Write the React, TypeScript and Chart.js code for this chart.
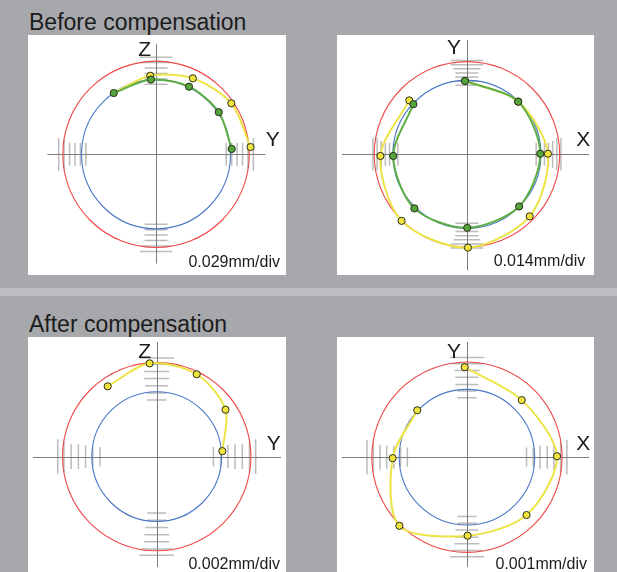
import React, { useEffect, useRef } from "react";
import { Chart, registerables } from "chart.js";

Chart.register(...registerables);

// ---------- data ----------
const SECTION_TITLES = ["Before compensation", "After compensation"];
const AXIS_NAMES: [string, string][] = [
  ["Z", "Y"],
  ["Y", "X"],
  ["Z", "Y"],
  ["Y", "X"],
];
const SCALE_LABELS = ["0.029mm/div", "0.014mm/div", "0.002mm/div", "0.001mm/div"];

// measured profile points (plot units, centre = 0,0)
const P1_GREEN: [number, number][] = [[-44, 64], [-5.3, 78], [34.3, 70.6], [65.3, 44], [78.7, 5.6]];
const P1_YELLOW: [number, number][] = [[-44, 64], [-6, 82], [38.3, 79.3], [78.3, 53.3], [98.3, 7.6]];
const P2_GREEN: [number, number][] = [[-2, 76.6], [53.3, 55], [76.3, 0.6], [54.3, -54.4], [0.3, -76.7], [-54.7, -56.4], [-76.7, -1.7], [-55.7, 52.3]];
const P2_YELLOW: [number, number][] = [[-2, 76.6], [53.3, 55], [84.3, 0.6], [65.3, -64.7], [1, -97.4], [-68, -69.4], [-90, -1.7], [-60, 56.3]];
const P3_YELLOW: [number, number][] = [[-51, 73.4], [-7.4, 97.4], [41.6, 86], [71.6, 49], [68.3, 5.7]];
const P4_YELLOW: [number, number][] = [[-2.3, 94], [57, 59.6], [93.7, 1], [62, -60.4], [0.7, -82], [-70.3, -71.7], [-77.3, -1], [-51.7, 49]];

const GREEN_SERIES: ([number, number][] | null)[] = [P1_GREEN, P2_GREEN, null, null];
const YELLOW_SERIES: [number, number][][] = [P1_YELLOW, P2_YELLOW, P3_YELLOW, P4_YELLOW];

// reference circles (plot units)
const OUTER_RADII = [97, 96.5, 98, 99];
const INNER_RADII = [77.5, 77, 67.5, 70.5];

// division tick positions along each axis (plot units)
const TICK_RADII: number[][] = [
  [73, 78.7, 84.3, 90, 95.7, 101.3],
  [72, 76.3, 80.6, 84.9, 89.2, 93.5, 97.8],
  [59, 66.5, 74, 81.5, 89, 96.5, 103],
  [62, 69, 76, 83.5, 90.5, 97.5, 104],
];

// ---------- layout / style ----------
const TICK_HALF: number[][] = [
  [12, 12, 12, 12, 15, 17],
  [12, 12, 12, 12, 14, 17, 17],
  [10, 10, 12, 13, 13, 16, 18],
  [10, 10, 12, 12, 13, 16, 18],
];

type PanelCfg = {
  left: number; top: number; w: number; h: number; cx: number; cy: number;
  axisX: [number, number] | null; axisY: [number, number] | null;
};
const PANELS: PanelCfg[] = [
  { left: 28, top: 35, w: 258, h: 240, cx: 128, cy: 119.3, axisX: [-113, 114], axisY: [-114, 115] },
  { left: 337, top: 35, w: 257, h: 240, cx: 130, cy: 119.3, axisX: null, axisY: null },
  { left: 28, top: 337, w: 258, h: 235, cx: 128.7, cy: 119.7, axisX: null, axisY: null },
  { left: 337, top: 337, w: 257, h: 235, cx: 130, cy: 120.3, axisX: null, axisY: null },
];

const AXIS_LABEL_POS = [
  [{ left: 138.3, top: 37.9 }, { left: 265.7, top: 128.2 }],
  [{ left: 447, top: 35.5 }, { left: 576.3, top: 128.2 }],
  [{ left: 138.3, top: 339.9 }, { left: 266.7, top: 431.5 }],
  [{ left: 447, top: 339.5 }, { left: 576.3, top: 431.5 }],
];
const SCALE_LABEL_POS = [
  { right: 337, top: 254 },
  { right: 31.7, top: 253.2 },
  { right: 337, top: 555.7 },
  { right: 30, top: 555.7 },
];

const FONT = "'Liberation Sans', Arial, sans-serif";
const BG = "#a7a8ac";
const RED = "#ee4848";
const BLUE = "#4b78c6";
const YELLOW_LINE = "#ece445";
const YELLOW_FILL = "#efe33c";
const GREEN_LINE = "#5eae44";
const GREEN_FILL = "#55a53a";
const POINT_BORDER = "#2a2e1c";
const TENSION = 0.3;

function makePlugin(idx: number) {
  return {
    id: "roundnessFrame" + idx,
    beforeDatasetsDraw(chart: any) {
      const ctx: CanvasRenderingContext2D = chart.ctx;
      const xs = chart.scales.x;
      const ys = chart.scales.y;
      const px = (v: number) => xs.getPixelForValue(v);
      const py = (v: number) => ys.getPixelForValue(v);
      const cfg = PANELS[idx];
      ctx.save();
      // division ticks
      ctx.strokeStyle = "#bcbcbc";
      ctx.lineWidth = 1.5;
      TICK_RADII[idx].forEach((r, i) => {
        const hl = TICK_HALF[idx][i];
        ctx.beginPath();
        ctx.moveTo(px(-hl), py(r)); ctx.lineTo(px(hl), py(r));
        ctx.moveTo(px(-hl), py(-r)); ctx.lineTo(px(hl), py(-r));
        ctx.moveTo(px(r), py(-hl)); ctx.lineTo(px(r), py(hl));
        ctx.moveTo(px(-r), py(-hl)); ctx.lineTo(px(-r), py(hl));
        ctx.stroke();
      });
      // axes
      ctx.strokeStyle = "#7c7c7c";
      ctx.lineWidth = 1;
      const ax = cfg.axisX ?? [xs.min, xs.max];
      const ay = cfg.axisY ?? [ys.min, ys.max];
      const ox = Math.round(px(0)) + 0.5;
      const oy = Math.round(py(0)) + 0.5;
      ctx.beginPath();
      ctx.moveTo(px(ax[0]), oy); ctx.lineTo(px(ax[1]), oy);
      ctx.moveTo(ox, py(ay[0])); ctx.lineTo(ox, py(ay[1]));
      ctx.stroke();
      // circles
      const circle = (r: number, color: string) => {
        const rad = px(r) - px(0);
        ctx.strokeStyle = color;
        ctx.lineWidth = 1.1;
        ctx.beginPath();
        ctx.arc(px(0), py(0), rad, 0, Math.PI * 2);
        ctx.stroke();
      };
      circle(OUTER_RADII[idx], RED);
      circle(INNER_RADII[idx], BLUE);
      ctx.restore();
    },
  };
}

function Panel({ idx }: { idx: number }) {
  const ref = useRef<HTMLCanvasElement>(null);
  const cfg = PANELS[idx];
  useEffect(() => {
    if (!ref.current) return;
    const datasets: any[] = [];
    const green = GREEN_SERIES[idx];
    if (green) {
      datasets.push({
        label: "green",
        data: green.map(([x, y]) => ({ x, y })),
        showLine: true,
        borderColor: GREEN_LINE,
        borderWidth: 2,
        tension: TENSION,
        pointRadius: 3.6,
        pointBackgroundColor: GREEN_FILL,
        pointBorderColor: POINT_BORDER,
        pointBorderWidth: 1,
      });
    }
    datasets.push({
      label: "yellow",
      data: YELLOW_SERIES[idx].map(([x, y]) => ({ x, y })),
      showLine: true,
      borderColor: YELLOW_LINE,
      borderWidth: 2,
      tension: TENSION,
      pointRadius: (c: any) => (idx === 0 && c.dataIndex === 0 ? 0 : 3.6),
      pointBackgroundColor: YELLOW_FILL,
      pointBorderColor: POINT_BORDER,
      pointBorderWidth: 1,
    });
    const chart = new Chart(ref.current, {
      type: "scatter",
      data: { datasets },
      options: {
        animation: false,
        responsive: false,
        maintainAspectRatio: false,
        devicePixelRatio: 1,
        layout: { padding: 0 },
        events: [],
        scales: {
          x: { type: "linear", display: false, min: -cfg.cx, max: cfg.w - cfg.cx },
          y: { type: "linear", display: false, min: -(cfg.h - cfg.cy), max: cfg.cy },
        },
        plugins: { legend: { display: false }, tooltip: { enabled: false }, title: { display: false } },
      },
      plugins: [makePlugin(idx)],
    } as any);
    return () => chart.destroy();
  }, [idx]);
  return (
    <canvas
      ref={ref}
      width={cfg.w}
      height={cfg.h}
      style={{ position: "absolute", left: cfg.left, top: cfg.top, width: cfg.w, height: cfg.h, background: "#fff" }}
    />
  );
}

export default function App() {
  const textBase: React.CSSProperties = {
    position: "absolute",
    fontFamily: FONT,
    lineHeight: 1,
    color: "#1c1c1c",
    whiteSpace: "nowrap",
  };
  return (
    <div style={{ position: "absolute", left: 0, top: 0, width: 617, height: 572, background: BG, overflow: "hidden" }}>
      <div style={{ position: "absolute", left: 0, top: 288, width: 617, height: 8, background: "#bcbdc0" }} />
      <div style={{ ...textBase, left: 29, top: 10.5, fontSize: 23 }}>{SECTION_TITLES[0]}</div>
      <div style={{ ...textBase, left: 29, top: 313.2, fontSize: 23 }}>{SECTION_TITLES[1]}</div>
      {PANELS.map((_, i) => (
        <Panel key={i} idx={i} />
      ))}
      {AXIS_NAMES.map((names, i) =>
        names.map((n, j) => (
          <div key={`a${i}${j}`} style={{ ...textBase, fontSize: 21, left: AXIS_LABEL_POS[i][j].left, top: AXIS_LABEL_POS[i][j].top }}>
            {n}
          </div>
        ))
      )}
      {SCALE_LABELS.map((s, i) => (
        <div key={`s${i}`} style={{ ...textBase, fontSize: 16, right: SCALE_LABEL_POS[i].right, top: SCALE_LABEL_POS[i].top }}>
          {s}
        </div>
      ))}
    </div>
  );
}
